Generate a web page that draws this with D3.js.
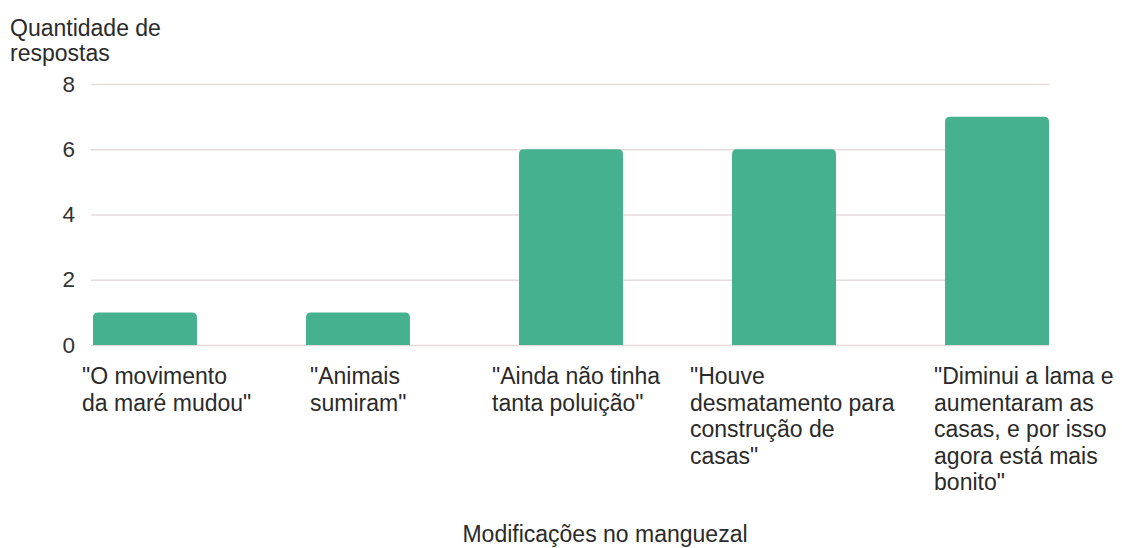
<!DOCTYPE html>
<html lang='pt'>
<head>
   <meta charset='UTF-8'>
   <script src="https://cdnjs.cloudflare.com/ajax/libs/d3/7.8.5/d3.min.js"></script>
   <style>
      body { margin: 0; background: #fff; }
      svg { display: block; font-family: 'Liberation Sans', Arial, sans-serif; }
      .tick text { fill: #333; font-size: 22.5px; }
      .lbl { fill: #2a2a2a; font-size: 23px; }
   </style>
   <title>Modificações no manguezal</title>
</head>
<body>
   <svg id='chart'></svg>
   <script>
      'use strict'

      const categories = [
         ['"O movimento', 'da maré mudou"'],
         ['"Animais', 'sumiram"'],
         ['"Ainda não tinha', 'tanta poluição"'],
         ['"Houve', 'desmatamento para', 'construção de', 'casas"'],
         ['"Diminui a lama e', 'aumentaram as', 'casas, e por isso', 'agora está mais', 'bonito"']
      ]
      const values = [1, 1, 6, 6, 7]
      const yTicks = [0, 2, 4, 6, 8]
      const yTitle = ['Quantidade de', 'respostas']
      const xTitle = 'Modificações no manguezal'

      // horizontal nudge of each label block, relative to its bar
      const labelDx = [-11, 4, -27, -42, -11]

      const W = 1122, H = 548
      const svg = d3.select('svg').attr('width', W).attr('height', H)

      const x = d3.scaleBand(d3.range(categories.length), [93, 1049])
         .paddingInner(0.512)
         .paddingOuter(0)

      const y = d3.scaleLinear([0, 8], [345, 84])

      // grid + tick labels
      svg.append('g')
         .attr('transform', 'translate(91,0)')
         .call(d3.axisLeft(y).tickValues(yTicks).tickSize(-958).tickPadding(16))
         .call(g => g.select('.domain').remove())
         .call(g => g.selectAll('.tick line').attr('stroke', '#e6dbdb').attr('stroke-width', 1.3))
         .call(g => g.selectAll('.tick text').attr('font-family', null).attr('font-size', null))

      // bars with rounded top corners
      const r = 5
      svg.append('g').selectAll('path')
         .data(values)
         .join('path')
         .attr('fill', '#45b18f')
         .attr('d', (d, i) => {
            const x0 = x(i), x1 = x0 + x.bandwidth(), y0 = y(0), y1 = y(d)
            return `M${x0},${y0}V${y1 + r}Q${x0},${y1} ${x0 + r},${y1}H${x1 - r}Q${x1},${y1} ${x1},${y1 + r}V${y0}Z`
         })

      // category labels
      svg.append('g').selectAll('text')
         .data(categories)
         .join('text')
         .attr('class', 'lbl')
         .attr('transform', (d, i) => `translate(${x(i) + labelDx[i]},384)`)
         .selectAll('tspan')
         .data(d => d)
         .join('tspan')
         .attr('x', 0)
         .attr('y', (d, j) => j * 26.6)
         .text(d => d)

      // axis titles
      svg.append('text')
         .attr('class', 'lbl')
         .selectAll('tspan')
         .data(yTitle)
         .join('tspan')
         .attr('x', 10)
         .attr('y', (d, j) => 36 + j * 25)
         .text(d => d)

      svg.append('text')
         .attr('class', 'lbl')
         .attr('x', 605)
         .attr('y', 542)
         .attr('text-anchor', 'middle')
         .text(xTitle)
   </script>
</body>
</html>
